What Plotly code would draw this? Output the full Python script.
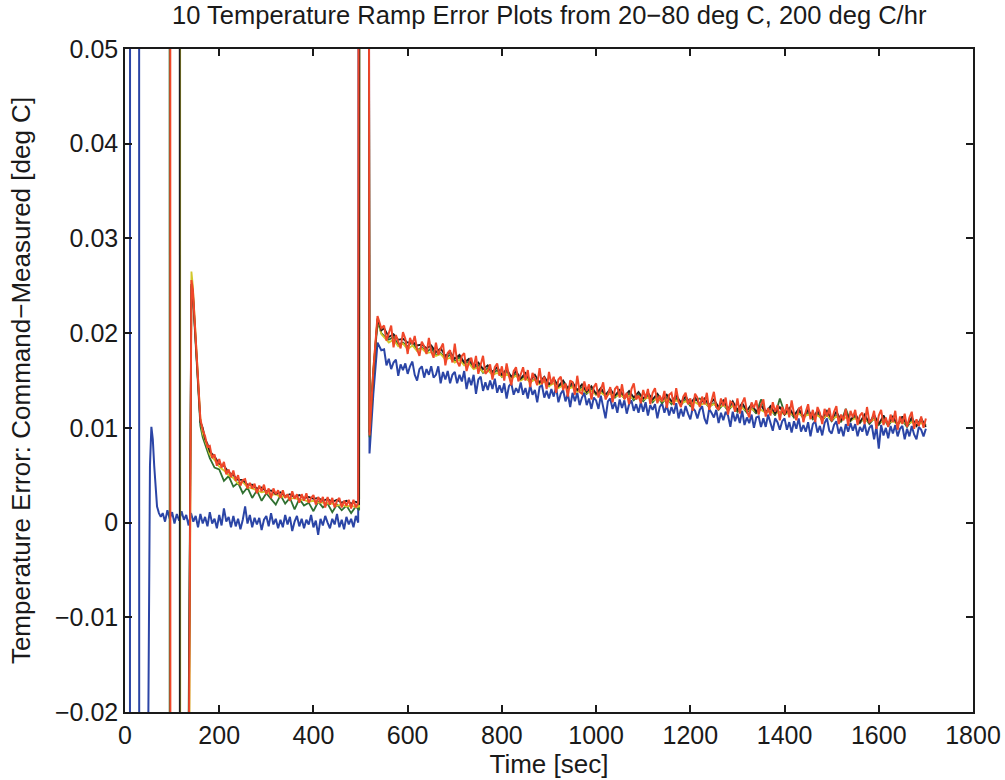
import plotly.graph_objects as go

# ---------------- data: temperature error [deg C] vs time [sec] ----------------
# common time grids (sec)
T_DECAY = [141, 144, 147, 150, 153, 156, 160, 165, 170, 175, 180,
           190, 200, 210, 220, 230, 240, 250, 260, 270, 280, 290, 300,
           310, 320, 330, 340, 350, 360, 370, 380, 390, 400, 410, 420,
           430, 440, 450, 460, 470, 480, 490, 497]
T_DECAY_FINE = [141, 144, 147, 150, 153, 156, 160, 165, 170, 175] + list(range(180, 500, 5))
T_BASE = list(range(80, 500, 5))
T_JUMP = [499, 512, 519, 527, 536, 544]
T_LATE = list(range(550, 1701, 10))
T_LATE_FINE = list(range(550, 1701, 5))

# ---- blue run (settles early) ----
BLUE_START_T = [0, 10, 11.2, 29.5, 30.7, 47, 49.5, 53, 56, 59, 62, 65, 68, 72, 76]
BLUE_START = [-0.3, -0.3, 0.3, 0.3, -0.3, -0.3, -0.021, 0.0060, 0.0101, 0.0088,
              0.0060, 0.0033, 0.0017, 0.0010, 0.0006]
BLUE_BASE = [0.0010, 0.0001, 0.0013, 0.0004, 0.0011, -0.0001, 0.0009, 0.0002, 0.0012, 0.0003,
             0.0008, -0.0003, 0.0010, 0.0001, 0.0007, -0.0005, 0.0009, -0.0001, 0.0006, -0.0004,
             0.0011, -0.0001, 0.0004, -0.0006, 0.0008, -0.0003, 0.0015, 0.0001, 0.0006, -0.0005,
             0.0007, -0.0004, 0.0004, -0.0007, 0.0003, 0.0017, -0.0001, 0.0008, -0.0005, 0.0005,
             -0.0002, 0.0005, -0.0008, 0.0003, 0.0007, -0.0004, 0.0010, -0.0002, 0.0004, -0.0006,
             0.0003, -0.0005, 0.0008, -0.0002, 0.0006, -0.0009, 0.0001, 0.0007, -0.0004, 0.0004,
             -0.0006, 0.0003, -0.0002, 0.0008, -0.0005, 0.0002, -0.0013, 0.0004, -0.0003, 0.0007,
             0.0000, -0.0006, 0.0004, -0.0002, 0.0009, -0.0005, 0.0003, -0.0007, 0.0006, -0.0002,
             0.0004, -0.0005, 0.0007, 0.0000]
BLUE_JUMP = [0.3, 0.3, 0.0073, 0.0135, 0.0190, 0.0182]
BLUE_LATE = [0.0183, 0.0166, 0.0173, 0.0162, 0.0169, 0.0172, 0.0155, 0.0167, 0.0161, 0.0168,
             0.0157, 0.0165, 0.0170, 0.0156, 0.0150, 0.0162, 0.0165, 0.0153, 0.0162, 0.0156,
             0.0165, 0.0153, 0.0156, 0.0165, 0.0147, 0.0159, 0.0151, 0.0160, 0.0147, 0.0156,
             0.0159, 0.0147, 0.0156, 0.0149, 0.0160, 0.0141, 0.0153, 0.0145, 0.0156, 0.0136,
             0.0151, 0.0154, 0.0139, 0.0148, 0.0140, 0.0150, 0.0141, 0.0152, 0.0137, 0.0145,
             0.0137, 0.0147, 0.0131, 0.0144, 0.0147, 0.0135, 0.0142, 0.0137, 0.0148, 0.0135,
             0.0142, 0.0131, 0.0145, 0.0135, 0.0140, 0.0127, 0.0143, 0.0145, 0.0132, 0.0139,
             0.0131, 0.0141, 0.0133, 0.0143, 0.0127, 0.0136, 0.0140, 0.0128, 0.0136, 0.0122,
             0.0137, 0.0128, 0.0137, 0.0124, 0.0132, 0.0137, 0.0124, 0.0131, 0.0120, 0.0132,
             0.0129, 0.0120, 0.0134, 0.0121, 0.0110, 0.0128, 0.0131, 0.0120, 0.0127, 0.0116,
             0.0130, 0.0121, 0.0129, 0.0115, 0.0125, 0.0129, 0.0118, 0.0125, 0.0116, 0.0127,
             0.0117, 0.0127, 0.0113, 0.0124, 0.0119, 0.0125, 0.0110, 0.0122, 0.0126, 0.0116,
             0.0124, 0.0113, 0.0122, 0.0115, 0.0126, 0.0110, 0.0120, 0.0112, 0.0123, 0.0115,
             0.0109, 0.0121, 0.0118, 0.0110, 0.0119, 0.0123, 0.0110, 0.0104, 0.0120, 0.0116,
             0.0111, 0.0119, 0.0105, 0.0116, 0.0108, 0.0117, 0.0113, 0.0101, 0.0117, 0.0107,
             0.0115, 0.0105, 0.0118, 0.0103, 0.0111, 0.0105, 0.0114, 0.0100, 0.0111, 0.0112,
             0.0101, 0.0110, 0.0101, 0.0114, 0.0104, 0.0097, 0.0110, 0.0106, 0.0098, 0.0107,
             0.0110, 0.0098, 0.0106, 0.0095, 0.0107, 0.0099, 0.0110, 0.0096, 0.0103, 0.0096,
             0.0106, 0.0091, 0.0104, 0.0107, 0.0095, 0.0102, 0.0092, 0.0105, 0.0110, 0.0097,
             0.0094, 0.0103, 0.0107, 0.0094, 0.0101, 0.0091, 0.0104, 0.0096, 0.0105, 0.0097,
             0.0104, 0.0091, 0.0101, 0.0096, 0.0104, 0.0092, 0.0100, 0.0103, 0.0088, 0.0101,
             0.0078, 0.0103, 0.0092, 0.0100, 0.0089, 0.0102, 0.0094, 0.0103, 0.0091, 0.0099,
             0.0102, 0.0088, 0.0099, 0.0091, 0.0102, 0.0093, 0.0088, 0.0101, 0.0098, 0.0091,
             0.0099]

# ---- green run ----
GREEN_START_T = [0, 94, 95.5, 131, 134.5]
GREEN_START = [0.3, 0.3, -0.3, -0.3, -0.025]
GREEN_DECAY = [0.0250, 0.0240, 0.0214, 0.0188, 0.0158, 0.0128, 0.0102, 0.0090, 0.0082, 0.0076,
               0.0068, 0.0058, 0.0056, 0.0044, 0.0049, 0.0038, 0.0042, 0.0031, 0.0037, 0.0026,
               0.0034, 0.0023, 0.0031, 0.0025, 0.0019, 0.0029, 0.0020, 0.0026, 0.0014, 0.0025,
               0.0018, 0.0021, 0.0012, 0.0022, 0.0016, 0.0020, 0.0011, 0.0019, 0.0013, 0.0018,
               0.0010, 0.0017, 0.0013]
GREEN_JUMP = [0.3, 0.3, 0.0090, 0.0155, 0.0212, 0.0200]
GREEN_LATE = [0.0197, 0.0193, 0.0196, 0.0188, 0.0190, 0.0186, 0.0191, 0.0182, 0.0185, 0.0180,
              0.0184, 0.0177, 0.0179, 0.0174, 0.0177, 0.0170, 0.0175, 0.0168, 0.0170, 0.0163,
              0.0166, 0.0158, 0.0163, 0.0157, 0.0161, 0.0154, 0.0160, 0.0152, 0.0157, 0.0151,
              0.0155, 0.0148, 0.0152, 0.0147, 0.0150, 0.0144, 0.0151, 0.0143, 0.0147, 0.0141,
              0.0145, 0.0139, 0.0143, 0.0136, 0.0141, 0.0135, 0.0140, 0.0133, 0.0138, 0.0132,
              0.0137, 0.0131, 0.0136, 0.0129, 0.0135, 0.0128, 0.0134, 0.0127, 0.0133, 0.0126,
              0.0132, 0.0125, 0.0131, 0.0124, 0.0130, 0.0123, 0.0129, 0.0131, 0.0127, 0.0122,
              0.0126, 0.0119, 0.0125, 0.0118, 0.0124, 0.0117, 0.0122, 0.0116, 0.0121, 0.0115,
              0.0130, 0.0117, 0.0120, 0.0113, 0.0131, 0.0116, 0.0118, 0.0111, 0.0117, 0.0110,
              0.0116, 0.0109, 0.0115, 0.0108, 0.0114, 0.0107, 0.0113, 0.0106, 0.0120, 0.0107,
              0.0112, 0.0105, 0.0111, 0.0104, 0.0110, 0.0103, 0.0110, 0.0102, 0.0109, 0.0104,
              0.0108, 0.0101, 0.0108, 0.0102, 0.0107, 0.0103]

# ---- yellow run ----
YELLOW_START_T = [0, 116.5, 118, 134, 136.5]
YELLOW_START = [0.3, 0.3, -0.3, -0.3, -0.025]
YELLOW_DECAY = [0.0265, 0.0250, 0.0224, 0.0197, 0.0168, 0.0138, 0.0110, 0.0094, 0.0086, 0.0079,
                0.0072, 0.0066, 0.0059, 0.0055, 0.0050, 0.0047, 0.0041, 0.0043, 0.0037, 0.0036,
                0.0034, 0.0032, 0.0033, 0.0029, 0.0030, 0.0027, 0.0028, 0.0025, 0.0026, 0.0024,
                0.0024, 0.0022, 0.0023, 0.0021, 0.0021, 0.0020, 0.0020, 0.0018, 0.0019, 0.0017,
                0.0018, 0.0016, 0.0017]
YELLOW_JUMP = [0.3, 0.3, 0.0098, 0.0162, 0.0216, 0.0199]
YELLOW_LATE = [0.0196, 0.0190, 0.0193, 0.0186, 0.0189, 0.0183, 0.0187, 0.0181, 0.0184, 0.0179,
               0.0180, 0.0176, 0.0178, 0.0172, 0.0174, 0.0169, 0.0172, 0.0166, 0.0168, 0.0162,
               0.0164, 0.0159, 0.0161, 0.0156, 0.0158, 0.0154, 0.0157, 0.0152, 0.0155, 0.0150,
               0.0153, 0.0148, 0.0151, 0.0146, 0.0149, 0.0144, 0.0147, 0.0142, 0.0145, 0.0141,
               0.0143, 0.0138, 0.0141, 0.0137, 0.0139, 0.0135, 0.0137, 0.0134, 0.0136, 0.0133,
               0.0135, 0.0132, 0.0134, 0.0131, 0.0133, 0.0130, 0.0132, 0.0129, 0.0131, 0.0128,
               0.0130, 0.0127, 0.0129, 0.0126, 0.0128, 0.0125, 0.0127, 0.0124, 0.0126, 0.0123,
               0.0125, 0.0122, 0.0124, 0.0121, 0.0123, 0.0119, 0.0121, 0.0118, 0.0120, 0.0117,
               0.0119, 0.0116, 0.0118, 0.0115, 0.0117, 0.0114, 0.0116, 0.0113, 0.0115, 0.0112,
               0.0114, 0.0111, 0.0113, 0.0110, 0.0113, 0.0109, 0.0112, 0.0108, 0.0111, 0.0108,
               0.0110, 0.0107, 0.0109, 0.0106, 0.0109, 0.0105, 0.0108, 0.0105, 0.0107, 0.0104,
               0.0107, 0.0104, 0.0106, 0.0103, 0.0105, 0.0102]

# ---- black run ----
BLACK_START_T = [0, 115.5, 117, 132, 135]
BLACK_START = [0.3, 0.3, -0.3, -0.3, -0.025]
BLACK_DECAY = [0.0252, 0.0243, 0.0218, 0.0193, 0.0166, 0.0133, 0.0106, 0.0100, 0.0088, 0.0083,
               0.0075, 0.0070, 0.0062, 0.0060, 0.0053, 0.0050, 0.0045, 0.0045, 0.0040, 0.0040,
               0.0036, 0.0037, 0.0033, 0.0034, 0.0030, 0.0032, 0.0028, 0.0030, 0.0027, 0.0029,
               0.0026, 0.0027, 0.0025, 0.0026, 0.0023, 0.0025, 0.0022, 0.0024, 0.0021, 0.0023,
               0.0020, 0.0022, 0.0020]
BLACK_JUMP = [0.3, 0.3, 0.0095, 0.0158, 0.0215, 0.0203]
BLACK_LATE = [0.0205, 0.0196, 0.0199, 0.0193, 0.0194, 0.0190, 0.0191, 0.0187, 0.0188, 0.0184,
              0.0187, 0.0180, 0.0184, 0.0176, 0.0180, 0.0173, 0.0177, 0.0169, 0.0173, 0.0165,
              0.0169, 0.0162, 0.0166, 0.0159, 0.0164, 0.0156, 0.0162, 0.0154, 0.0160, 0.0152,
              0.0158, 0.0150, 0.0156, 0.0148, 0.0154, 0.0146, 0.0152, 0.0144, 0.0150, 0.0142,
              0.0148, 0.0140, 0.0146, 0.0138, 0.0144, 0.0136, 0.0142, 0.0135, 0.0141, 0.0134,
              0.0140, 0.0133, 0.0139, 0.0132, 0.0138, 0.0131, 0.0137, 0.0130, 0.0136, 0.0129,
              0.0135, 0.0128, 0.0134, 0.0127, 0.0133, 0.0126, 0.0132, 0.0125, 0.0131, 0.0124,
              0.0130, 0.0122, 0.0129, 0.0120, 0.0128, 0.0119, 0.0126, 0.0118, 0.0125, 0.0117,
              0.0124, 0.0116, 0.0123, 0.0115, 0.0122, 0.0114, 0.0121, 0.0113, 0.0120, 0.0112,
              0.0119, 0.0111, 0.0118, 0.0110, 0.0118, 0.0109, 0.0117, 0.0108, 0.0116, 0.0108,
              0.0115, 0.0106, 0.0114, 0.0105, 0.0114, 0.0104, 0.0113, 0.0104, 0.0112, 0.0103,
              0.0112, 0.0103, 0.0111, 0.0102, 0.0110, 0.0101]

# ---- red run (drawn last, on top) ----
RED_START_T = [0, 95.5, 97, 133, 135.5]
RED_START = [0.3, 0.3, -0.3, -0.3, -0.025]
RED_DECAY = [0.0256, 0.0246, 0.0220, 0.0196, 0.0163, 0.0137, 0.0109, 0.0098, 0.0091, 0.0080,
             0.0081, 0.0068, 0.0072, 0.0060, 0.0067, 0.0058, 0.0064, 0.0051, 0.0056, 0.0048,
             0.0055, 0.0044, 0.0050, 0.0039, 0.0045, 0.0046, 0.0036, 0.0042, 0.0036, 0.0041,
             0.0031, 0.0039, 0.0033, 0.0040, 0.0030, 0.0036, 0.0026, 0.0036, 0.0030, 0.0034,
             0.0026, 0.0034, 0.0026, 0.0030, 0.0023, 0.0033, 0.0025, 0.0030, 0.0021, 0.0030,
             0.0023, 0.0031, 0.0021, 0.0026, 0.0029, 0.0019, 0.0027, 0.0021, 0.0027, 0.0016,
             0.0027, 0.0019, 0.0026, 0.0016, 0.0023, 0.0026, 0.0016, 0.0023, 0.0018, 0.0024,
             0.0015, 0.0024, 0.0016, 0.0021]
RED_JUMP = [0.3, 0.3, 0.0092, 0.0160, 0.0218, 0.0205]
RED_LATE = [0.0208, 0.0192, 0.0199, 0.0208, 0.0185, 0.0198, 0.0191, 0.0184, 0.0201, 0.0194,
            0.0178, 0.0195, 0.0188, 0.0197, 0.0183, 0.0176, 0.0191, 0.0186, 0.0178, 0.0195,
            0.0181, 0.0174, 0.0190, 0.0177, 0.0184, 0.0189, 0.0166, 0.0179, 0.0182, 0.0169,
            0.0189, 0.0170, 0.0165, 0.0176, 0.0179, 0.0160, 0.0169, 0.0174, 0.0163, 0.0176,
            0.0157, 0.0166, 0.0176, 0.0157, 0.0160, 0.0167, 0.0151, 0.0164, 0.0168, 0.0155,
            0.0165, 0.0150, 0.0168, 0.0155, 0.0145, 0.0160, 0.0164, 0.0149, 0.0157, 0.0164,
            0.0150, 0.0161, 0.0143, 0.0158, 0.0152, 0.0145, 0.0163, 0.0146, 0.0154, 0.0141,
            0.0159, 0.0146, 0.0154, 0.0137, 0.0151, 0.0154, 0.0140, 0.0147, 0.0133, 0.0150,
            0.0148, 0.0135, 0.0155, 0.0138, 0.0136, 0.0149, 0.0139, 0.0146, 0.0130, 0.0143,
            0.0147, 0.0132, 0.0140, 0.0148, 0.0130, 0.0135, 0.0143, 0.0127, 0.0141, 0.0144,
            0.0132, 0.0146, 0.0130, 0.0137, 0.0125, 0.0141, 0.0147, 0.0130, 0.0134, 0.0126,
            0.0140, 0.0131, 0.0141, 0.0125, 0.0137, 0.0142, 0.0126, 0.0134, 0.0128, 0.0139,
            0.0121, 0.0135, 0.0137, 0.0124, 0.0142, 0.0128, 0.0122, 0.0133, 0.0137, 0.0125,
            0.0131, 0.0118, 0.0136, 0.0132, 0.0122, 0.0133, 0.0125, 0.0137, 0.0119, 0.0128,
            0.0138, 0.0122, 0.0119, 0.0131, 0.0123, 0.0132, 0.0114, 0.0128, 0.0126, 0.0117,
            0.0131, 0.0115, 0.0126, 0.0132, 0.0118, 0.0111, 0.0127, 0.0121, 0.0129, 0.0114,
            0.0124, 0.0130, 0.0112, 0.0121, 0.0113, 0.0127, 0.0117, 0.0124, 0.0108, 0.0122,
            0.0114, 0.0125, 0.0111, 0.0129, 0.0115, 0.0108, 0.0120, 0.0122, 0.0106, 0.0117,
            0.0125, 0.0109, 0.0119, 0.0106, 0.0122, 0.0116, 0.0104, 0.0120, 0.0112, 0.0121,
            0.0107, 0.0117, 0.0123, 0.0104, 0.0114, 0.0108, 0.0120, 0.0102, 0.0118, 0.0111,
            0.0119, 0.0103, 0.0113, 0.0116, 0.0104, 0.0122, 0.0106, 0.0108, 0.0118, 0.0099,
            0.0113, 0.0119, 0.0103, 0.0111, 0.0101, 0.0114, 0.0106, 0.0118, 0.0098, 0.0112,
            0.0104, 0.0115, 0.0101, 0.0111, 0.0117, 0.0099, 0.0109, 0.0102, 0.0112, 0.0100,
            0.0110]

X_TICKS = [0, 200, 400, 600, 800, 1000, 1200, 1400, 1600, 1800]
Y_TICKS = [-0.02, -0.01, 0, 0.01, 0.02, 0.03, 0.04, 0.05]
Y_TICK_TEXT = ["\u22120.02", "\u22120.01", "0", "0.01", "0.02", "0.03", "0.04", "0.05"]

TITLE = "10 Temperature Ramp Error Plots from 20\u221280 deg C, 200 deg C/hr"
X_LABEL = "Time [sec]"
Y_LABEL = "Temperature Error: Command\u2212Measured [deg C]"

COLORS = {"blue": "#2b45a6", "green": "#2f7030", "yellow": "#d2c82c",
          "black": "#1e1e1e", "red": "#f0472a"}
WIDTHS = {"blue": 2.0, "green": 1.8, "yellow": 1.8, "black": 1.8, "red": 2.0}

# ---------------- build figure ----------------
runs = [
    ("blue", BLUE_START_T + T_BASE + T_JUMP + T_LATE_FINE, BLUE_START + BLUE_BASE + BLUE_JUMP + BLUE_LATE),
    ("green", GREEN_START_T + T_DECAY + T_JUMP + T_LATE, GREEN_START + GREEN_DECAY + GREEN_JUMP + GREEN_LATE),
    ("yellow", YELLOW_START_T + T_DECAY + T_JUMP + T_LATE, YELLOW_START + YELLOW_DECAY + YELLOW_JUMP + YELLOW_LATE),
    ("black", BLACK_START_T + T_DECAY + T_JUMP + T_LATE, BLACK_START + BLACK_DECAY + BLACK_JUMP + BLACK_LATE),
    ("red", RED_START_T + T_DECAY_FINE + T_JUMP + T_LATE_FINE, RED_START + RED_DECAY + RED_JUMP + RED_LATE),
]

fig = go.Figure()
for name, xs, ys in runs:
    n = min(len(xs), len(ys))
    fig.add_trace(go.Scatter(x=xs[:n], y=ys[:n], mode="lines", name=name,
                             line=dict(color=COLORS[name], width=WIDTHS[name]),
                             showlegend=False))

FONT = "Liberation Sans, Arial, Helvetica, sans-serif"
axis_common = dict(showline=True, linecolor="#1a1a1a", linewidth=1.5, mirror="ticks",
                   ticks="inside", ticklen=7, tickwidth=1.5, tickcolor="#1a1a1a",
                   showgrid=False, zeroline=False,
                   tickfont=dict(family=FONT, size=25, color="#1a1a1a"))

fig.update_layout(
    width=1005, height=780,
    margin=dict(l=125, r=32, t=49, b=68),
    paper_bgcolor="white", plot_bgcolor="white",
    title=dict(text=TITLE, x=0.5465, xanchor="center", y=0.981, yanchor="middle",
               font=dict(family=FONT, size=25.5, color="#1a1a1a")),
    xaxis=dict(range=[0, 1800], tickvals=X_TICKS, automargin=False,
               title=dict(text=X_LABEL, standoff=4, font=dict(family=FONT, size=26, color="#1a1a1a")),
               **axis_common),
    yaxis=dict(range=[-0.02, 0.05], tickvals=Y_TICKS, ticktext=Y_TICK_TEXT, automargin=False,
               title=dict(text=Y_LABEL, standoff=17, font=dict(family=FONT, size=26, color="#1a1a1a")),
               **axis_common),
)

fig.write_html("out.html")
